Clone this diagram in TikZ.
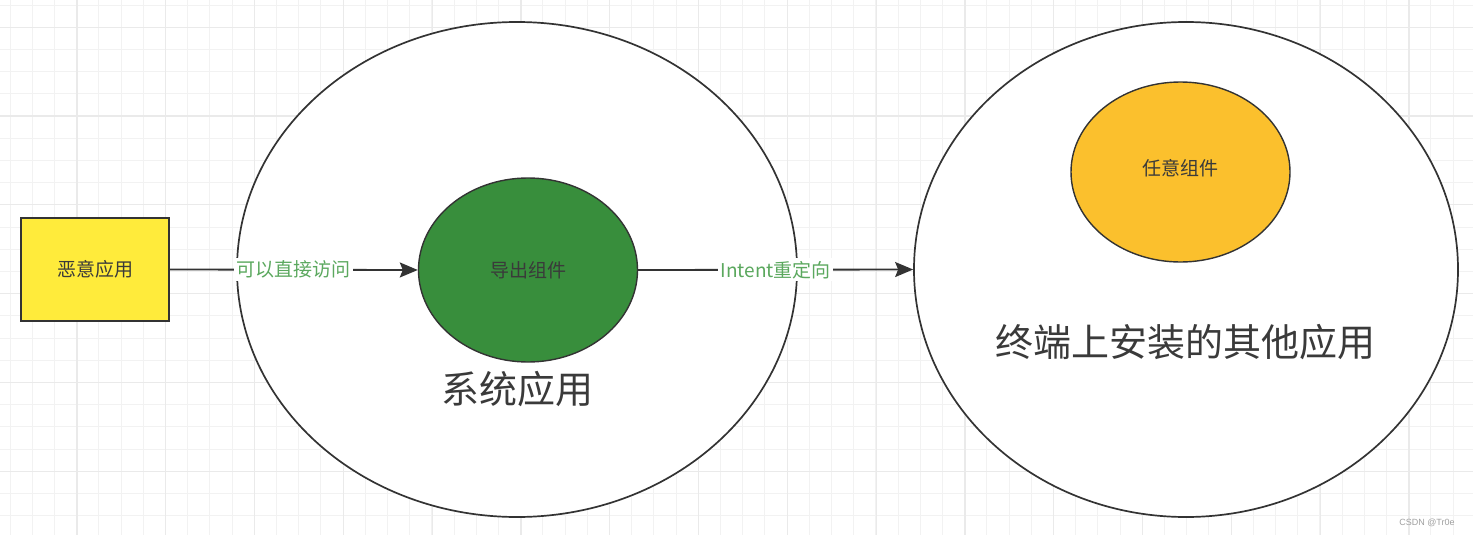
\documentclass[tikz,border=0pt]{standalone}
\usepackage{fontspec}
\newfontfamily\cjk{Noto Sans CJK SC}
\newfontfamily\wmfont{Liberation Sans}
\usetikzlibrary{shapes.geometric, arrows.meta}

\definecolor{gridminor}{HTML}{F2F2F2}
\definecolor{gridmajor}{HTML}{EAEAEA}
\definecolor{linegray}{HTML}{333333}
\definecolor{textgray}{HTML}{3A3A3A}
\definecolor{malyellow}{HTML}{FFEB3B}
\definecolor{exportgreen}{HTML}{388E3C}
\definecolor{anyorange}{HTML}{FBC02D}
\definecolor{labelgreen}{HTML}{5BA85E}

\begin{document}
\begin{tikzpicture}[
    x=1pt, y=-1pt,
    every node/.style={font=\cjk},
    >={Stealth[length=18pt, width=15pt, inset=3pt]},
    bigapp/.style={ellipse, draw=linegray, line width=1.7pt, fill=white, inner sep=0pt},
    comp/.style={ellipse, draw=linegray, line width=1.4pt, inner sep=0pt,
        text=textgray, font=\cjk\fontsize{19}{19}\selectfont},
    link/.style={->, line width=1.8pt, draw=linegray},
    linklabel/.style={fill=white, inner sep=2.5pt, text=labelgreen,
        font=\cjk\fontsize{19}{19}\selectfont},
    biglabel/.style={text=textgray, font=\cjk\fontsize{38}{38}\selectfont},
]

\useasboundingbox (0,0) rectangle (1473,538);

% === Background grid ===
\foreach \gx in {10,32.2,...,1473} {
    \draw[gridminor, line width=1pt] (\gx,0) -- (\gx,535);
}
\foreach \gy in {5,27.2,...,535} {
    \draw[gridminor, line width=1pt] (0,\gy) -- (1473,\gy);
}
\foreach \gx in {77,165.8,...,1473} {
    \draw[gridmajor, line width=1.2pt] (\gx,0) -- (\gx,535);
}
\foreach \gy in {27.2,116,...,535} {
    \draw[gridmajor, line width=1.2pt] (0,\gy) -- (1473,\gy);
}

% === Applications (big ellipses) ===
\node[bigapp, minimum width=560pt, minimum height=495pt] (sysapp) at (517,269.5) {};
\node[bigapp, minimum width=544pt, minimum height=495pt] (otherapp) at (1186,269.5) {};
\node[biglabel] (syslabel) at (517,389) {系统应用};
\node[biglabel] (otherlabel) at (1185,342) {终端上安装的其他应用};

% === Malicious app ===
\node[draw=linegray, line width=1.8pt, fill=malyellow, text=textgray,
    minimum width=148pt, minimum height=103pt, inner sep=0pt,
    font=\cjk\fontsize{19}{19}\selectfont] (malapp) at (95,269.5) {恶意应用};

% === Components ===
\node[comp, fill=exportgreen, minimum width=219pt, minimum height=184pt]
    (export) at (528,270) {导出组件};
\node[comp, fill=anyorange, minimum width=219pt, minimum height=180pt]
    (anycomp) at (1180.5,172) {};
\node[text=textgray, font=\cjk\fontsize{19}{19}\selectfont] (anylabel) at (1180,168) {任意组件};

% === Connectors ===
\draw[link] (malapp.east) -- node[linklabel] (direct) {可以直接访问} (export.west);
\draw[link] (export.east) -- node[linklabel] (redirect) {Intent重定向} (otherapp.west);

% watermark
\node[font=\wmfont\fontsize{9}{9}\selectfont, text=gray!75] (mark) at (1427,523) {CSDN @Tr0e};

\end{tikzpicture}
\end{document}
